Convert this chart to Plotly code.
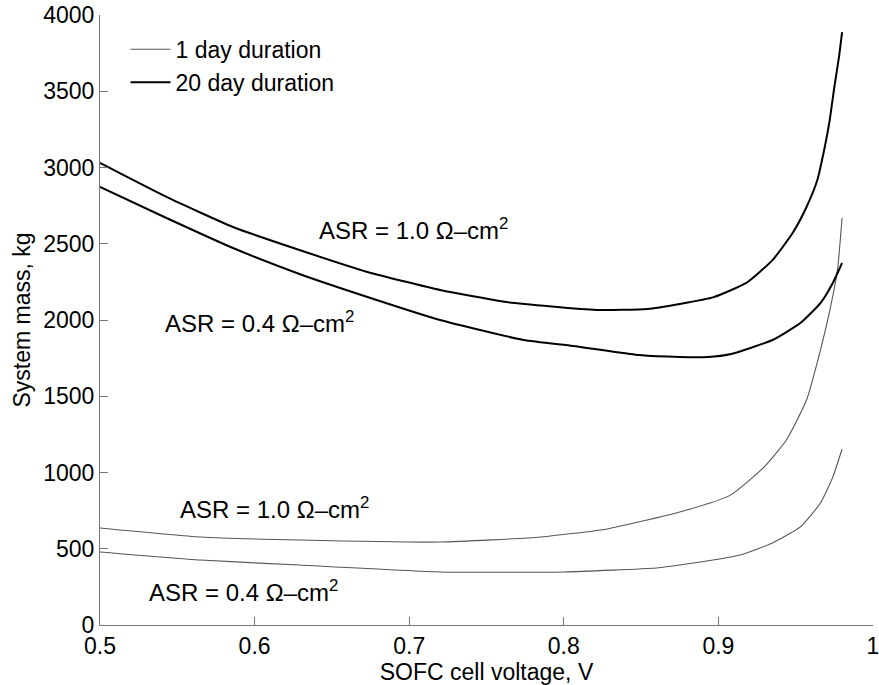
import plotly.graph_objects as go

# 20 day duration, ASR = 1.0
x20_hi = [0.50, 0.543, 0.586, 0.629, 0.673, 0.72, 0.763, 0.821, 0.854, 0.875, 0.897, 0.918, 0.935, 0.948, 0.957, 0.964, 0.968, 0.972, 0.975, 0.978, 0.98]
y20_hi = [3030, 2807, 2610, 2459, 2315, 2197, 2118, 2066, 2072, 2105, 2150, 2243, 2393, 2570, 2741, 2918, 3095, 3311, 3528, 3725, 3888]
# 20 day duration, ASR = 0.4
x20_lo = [0.50, 0.543, 0.586, 0.629, 0.673, 0.72, 0.774, 0.806, 0.849, 0.875, 0.893, 0.9075, 0.935, 0.953, 0.966, 0.974, 0.98]
y20_lo = [2872, 2669, 2472, 2302, 2151, 2000, 1869, 1830, 1770, 1757, 1757, 1775, 1869, 1980, 2111, 2243, 2374]
# 1 day duration, ASR = 1.0
x1_hi = [0.50, 0.565, 0.629, 0.72, 0.785, 0.828, 0.875, 0.9075, 0.929, 0.944, 0.957, 0.966, 0.972, 0.977, 0.98]
y1_hi = [636, 577, 557, 544, 577, 630, 741, 850, 1030, 1213, 1475, 1803, 2060, 2328, 2669]
# 1 day duration, ASR = 0.4
x1_lo = [0.50, 0.565, 0.629, 0.72, 0.80, 0.86, 0.875, 0.914, 0.935, 0.953, 0.966, 0.974, 0.98]
y1_lo = [479, 426, 393, 348, 348, 374, 393, 459, 538, 643, 800, 970, 1154]

x_ticks = [0.5, 0.6, 0.7, 0.8, 0.9, 1.0]
x_tick_labels = ["0.5", "0.6", "0.7", "0.8", "0.9", "1"]
y_ticks = [0, 500, 1000, 1500, 2000, 2500, 3000, 3500, 4000]

labels = ["ASR = 1.0 Ω–cm<sup>2</sup>", "ASR = 0.4 Ω–cm<sup>2</sup>",
          "ASR = 1.0 Ω–cm<sup>2</sup>", "ASR = 0.4 Ω–cm<sup>2</sup>"]
label_x = [0.7028, 0.6029, 0.6126, 0.5928]
label_y = [2600, 1990, 764, 220]

FONT = "Liberation Sans, Arial, Helvetica, sans-serif"
FS = 23
thin = dict(color="#555555", width=1.1, shape="spline", smoothing=0.5)
thick = dict(color="black", width=2, shape="spline", smoothing=0.5)

fig = go.Figure()
fig.add_trace(go.Scatter(x=x1_hi, y=y1_hi, mode="lines", line=thin, name="1 day duration", legendgroup="a"))
fig.add_trace(go.Scatter(x=x1_lo, y=y1_lo, mode="lines", line=thin, name="1 day duration", showlegend=False, legendgroup="a"))
fig.add_trace(go.Scatter(x=x20_hi, y=y20_hi, mode="lines", line=thick, name="20 day duration", legendgroup="b"))
fig.add_trace(go.Scatter(x=x20_lo, y=y20_lo, mode="lines", line=thick, name="20 day duration", showlegend=False, legendgroup="b"))

for t, xx, yy in zip(labels, label_x, label_y):
    fig.add_annotation(x=xx, y=yy, text=t, showarrow=False, font=dict(size=24, color="black", family=FONT))

axis_common = dict(showline=True, linecolor="#777777", linewidth=1, ticks="inside", ticklen=8,
                   tickcolor="#777777", showgrid=False, zeroline=False, automargin=False,
                   ticklabeloverflow="allow",
                   tickfont=dict(size=FS, color="black", family=FONT))

fig.update_xaxes(range=[0.5, 1.0], tickvals=x_ticks, ticktext=x_tick_labels,
                 title=dict(text="SOFC cell voltage, V", font=dict(size=FS, color="black", family=FONT), standoff=0),
                 **axis_common)
fig.update_yaxes(range=[0, 4000], tickvals=y_ticks,
                 title=dict(text="System mass, kg", font=dict(size=FS, color="black", family=FONT), standoff=6),
                 **axis_common)

fig.update_layout(
    width=879, height=685,
    margin=dict(l=100, r=6, t=15, b=60),
    paper_bgcolor="white", plot_bgcolor="white",
    font=dict(family=FONT, color="black"),
    legend=dict(x=0.033, y=0.979, xanchor="left", yanchor="top", bgcolor="rgba(0,0,0,0)",
                font=dict(size=FS, color="black", family=FONT), tracegroupgap=0, itemwidth=40),
)

fig.write_html("out.html", config={"displayModeBar": False},
               post_script="document.body.style.margin='0';document.body.style.overflow='hidden';")
